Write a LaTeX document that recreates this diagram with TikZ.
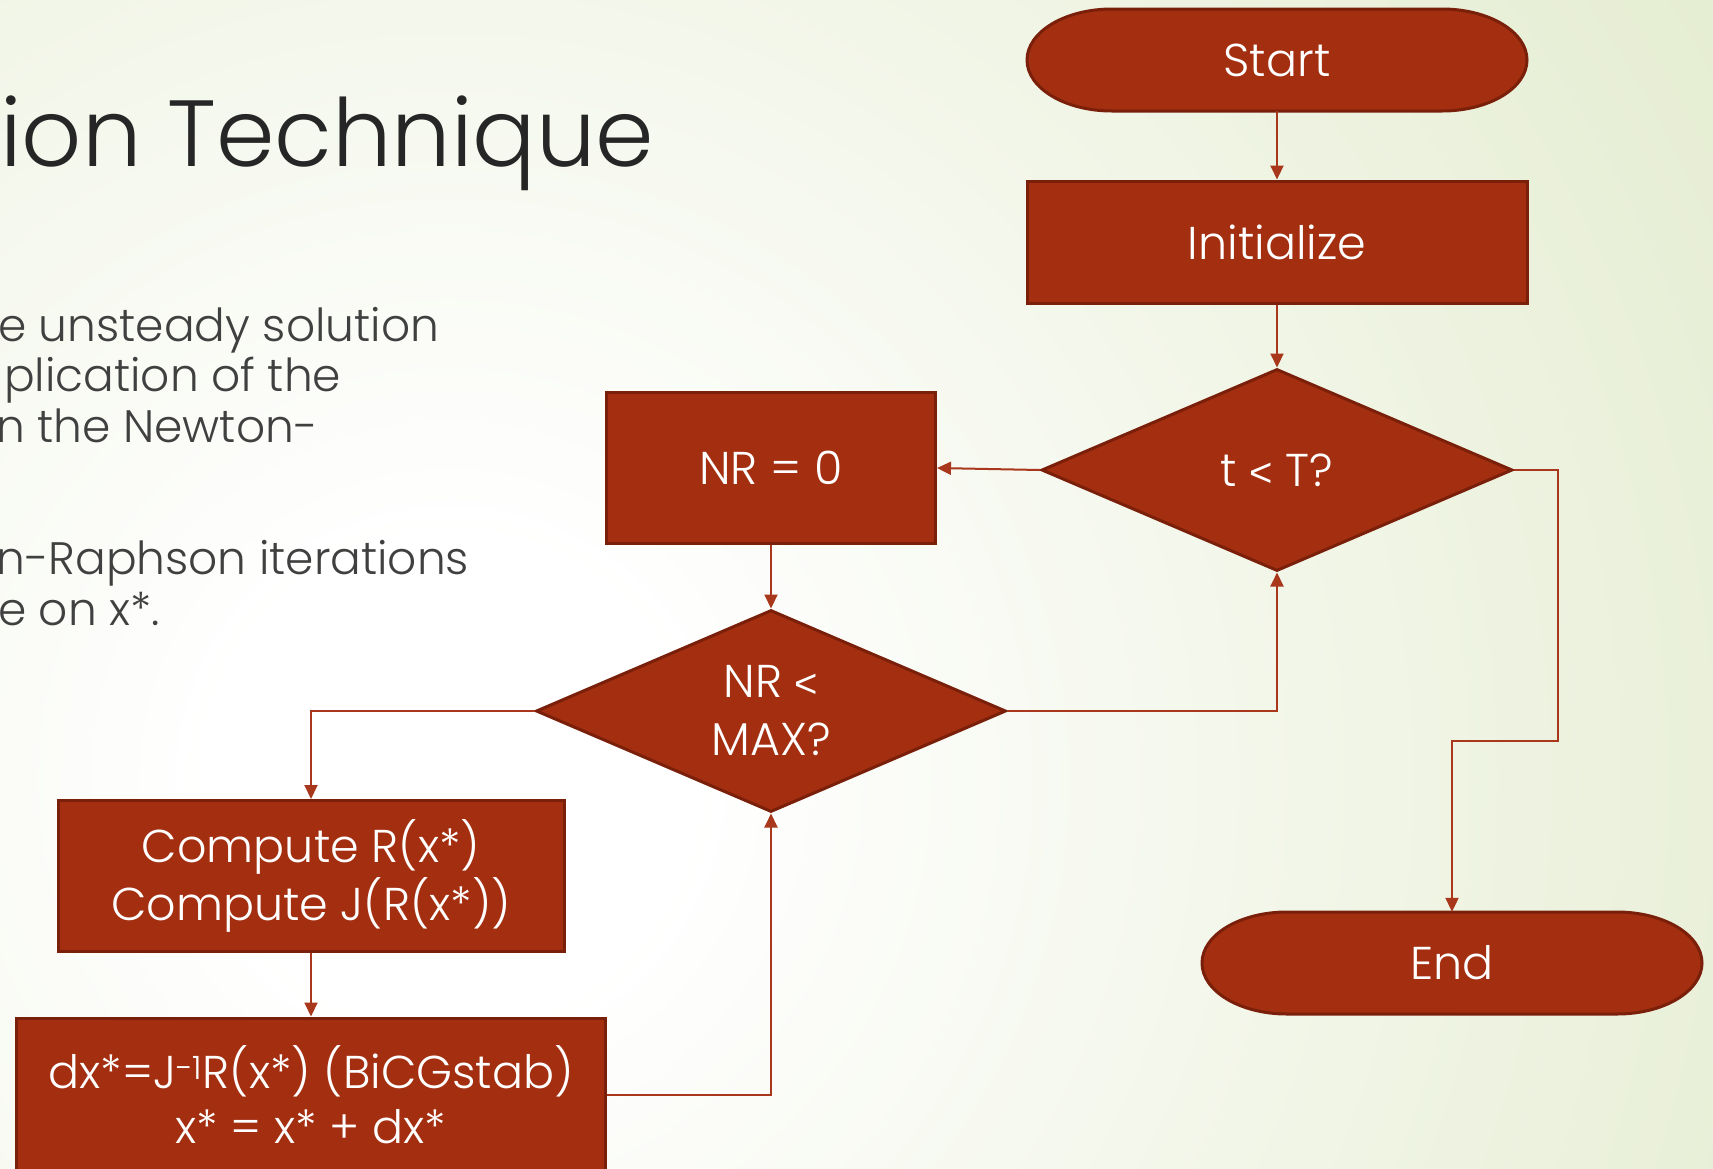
\documentclass[tikz,border=0pt]{standalone}
\usepackage{fontspec}
\setmainfont{Poppins}[UprightFont={* Light}]
\newfontfamily\ltfont{Liberation Sans}
\usetikzlibrary{shapes.geometric,arrows.meta}
\definecolor{boxfill}{HTML}{A32E10}
\definecolor{boxline}{HTML}{7A1F0A}
\definecolor{connc}{HTML}{A8371B}
\definecolor{bggreen}{HTML}{D8E4BB}
\definecolor{titlec}{HTML}{262626}
\definecolor{bodyc}{HTML}{404040}
\pgfdeclareradialshading{bgshade}{\pgfpoint{0bp}{0bp}}{color(0bp)=(white); color(4bp)=(white); color(35bp)=(bggreen); color(50bp)=(bggreen)}
\newcommand\nodefont{\fontsize{46}{58}\selectfont}
\newcommand\bodyfont{\fontsize{45.5}{51}\selectfont}
\newcommand\lessthan{{\ltfont\fontsize{40}{48}\selectfont <}}
\begin{document}
\begin{tikzpicture}[x=1pt,y=-1pt,
  boxst/.style={rectangle, fill=boxfill, draw=boxline, line width=3pt, text=white, inner sep=0pt, align=center, font=\nodefont},
  decst/.style={diamond, aspect=2.33, fill=boxfill, draw=boxline, line width=3pt, text=white, inner sep=0pt, align=center, font=\nodefont},
  termtext/.style={rectangle, inner sep=0pt, text=white, font=\nodefont},
  termline/.style={fill=boxfill, draw=boxline, line width=3pt},
  conn/.style={draw=connc, line width=2pt, -{Triangle[length=14pt,width=13pt]}},
  bodytext/.style={anchor=base west, inner sep=0pt, text=bodyc, font=\bodyfont}]
\useasboundingbox (0,0) rectangle (1713,1168);
\begin{scope}
\clip (0,0) rectangle (1713,1168);
\fill[bggreen] (0,0) rectangle (1713,1168);
\shade[shading=bgshade] (-1050,-720) rectangle (1950,2280);

% title and body text (cut off at the left edge)
\node[anchor=base west, inner sep=0pt, text=titlec, font=\fontsize{94}{110}\selectfont] (title) at (0,166) {ion Technique};
\node[bodytext] (b1) at (-2,341) {e unsteady solution};
\node[bodytext] (b2) at (4,391) {plication of the};
\node[bodytext] (b3) at (-4,442) {n the Newton-};
\node[bodytext] (b4) at (-4,574) {n-Raphson iterations};
\node[bodytext] (b5) at (-2,625) {e on x*.};

% terminals
\draw[termline] (1112,9) -- (1442,9) arc[start angle=-90,end angle=90,x radius=85,y radius=51] -- (1112,111) arc[start angle=90,end angle=270,x radius=85,y radius=51] -- cycle;
\node[termtext, minimum width=500pt, minimum height=102pt] (start) at (1277,60) {Start};
\draw[termline] (1287,912) -- (1617,912) arc[start angle=-90,end angle=90,x radius=85,y radius=51] -- (1287,1014) arc[start angle=90,end angle=270,x radius=85,y radius=51] -- cycle;
\node[termtext, minimum width=500pt, minimum height=102pt] (end) at (1452,963) {End};

% process boxes
\node[boxst, minimum width=500pt, minimum height=122pt] (init) at (1277,242) {Initialize};
\node[boxst, minimum width=329pt, minimum height=151pt] (nr0) at (771,468) {NR = 0};
\node[boxst, minimum width=506pt, minimum height=151pt] (comp) at (311,876) {Compute R(x*)\\Compute J(R(x*))};
\node[boxst, minimum width=589pt, minimum height=154pt, font=\fontsize{46}{55}\selectfont] (dx) at (311,1095) {dx*=J\textsuperscript{-1}R(x*) (BiCGstab)\\x* = x* + dx*};

% decisions
\node[decst, minimum width=471pt, minimum height=202pt] (tt) at (1277,470) {t \lessthan{} T?};
\node[decst, minimum width=470pt, minimum height=202pt] (nrmax) at (771,711) {NR \lessthan\\MAX?};

% connectors
\coordinate (c1) at (1558,741);
\draw[conn] (start.south) -- (init.north);
\draw[conn] (init.south) -- (tt.north);
\draw[conn] (tt.west) -- (nr0.east);
\draw[conn] (nr0.south) -- (nrmax.north);
\draw[conn] (nrmax.west) -| (comp.north);
\draw[conn] (comp.south) -- (dx.north);
\draw[conn] (dx.east) -| (nrmax.south);
\draw[conn] (nrmax.east) -| (tt.south);
\draw[conn] (tt.east) -| (c1) -| (end.north);
\end{scope}
\end{tikzpicture}
\end{document}
